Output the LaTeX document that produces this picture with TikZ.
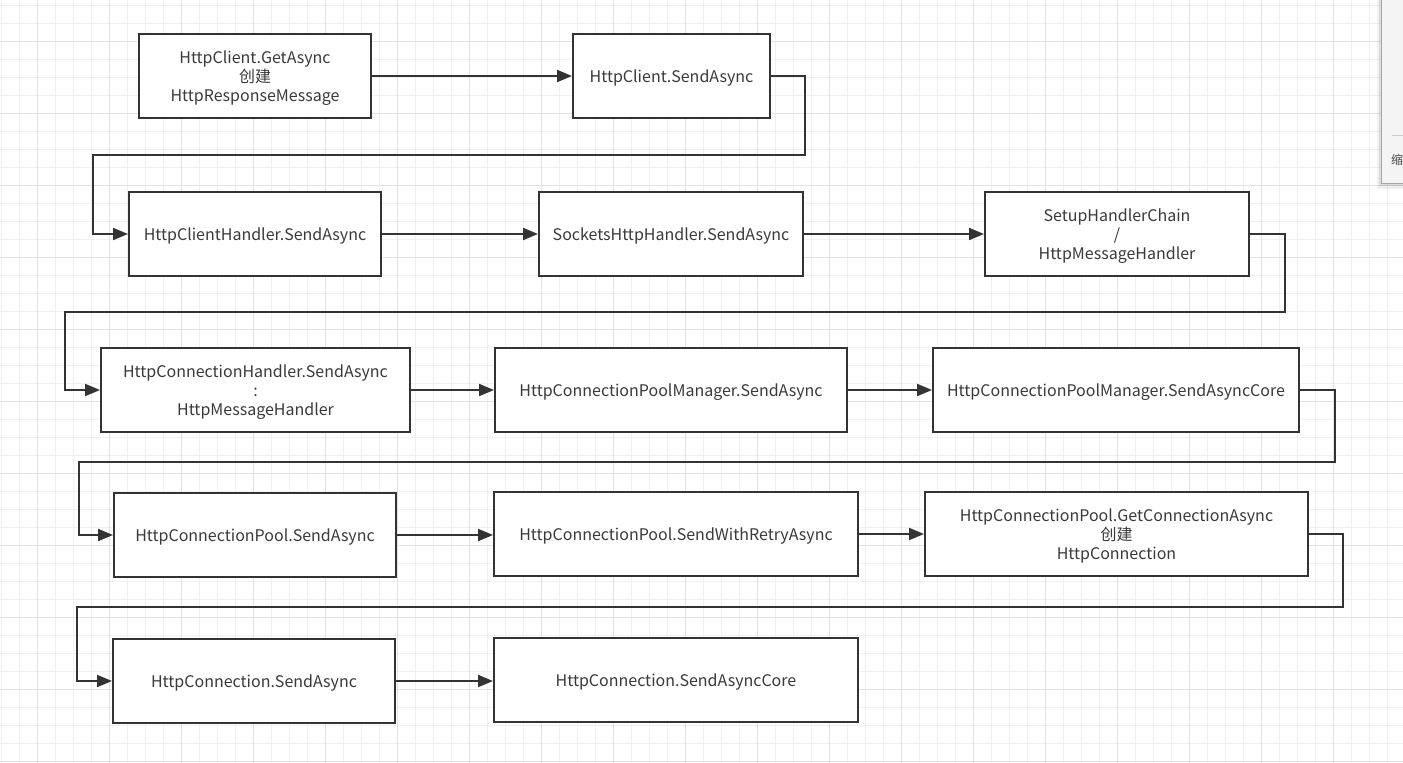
\documentclass[tikz,border=0pt]{standalone}
\usepackage{fontspec}
\setmainfont{Noto Sans CJK SC}
\usetikzlibrary{arrows.meta}
\definecolor{ink}{HTML}{333333}
\definecolor{txt}{HTML}{3A3A3A}
\definecolor{gridminor}{HTML}{F0F0F0}
\definecolor{gridmajor}{HTML}{E2E2E2}
\definecolor{panelfill}{HTML}{F4F4F4}
\tikzset{
  box/.style={draw=ink, line width=2pt, fill=white, minimum height=84pt, inner sep=0pt},
  lbl/.style={align=center, text=txt, font=\fontsize{16}{19}\selectfont, inner sep=0pt, yshift=-2pt},
  conn/.style={draw=ink, line width=2pt, -{Triangle[length=15pt,width=12pt]}},
  gminor/.style={draw=gridminor, line width=0.8pt},
  gmajor/.style={draw=gridmajor, line width=1pt}
}
\begin{document}
\begin{tikzpicture}[x=1pt,y=-1pt]
\useasboundingbox (0,0) rectangle (1403,763);
\fill[white] (0,0) rectangle (1403,763);
% grid
\foreach \x in {1,19,...,1403} \draw[gminor] (\x,0) -- (\x,763);
\foreach \y in {5,23,...,763} \draw[gminor] (0,\y) -- (1403,\y);
\foreach \x in {37,109,...,1403} \draw[gmajor] (\x,0) -- (\x,763);
\foreach \y in {41,113,...,763} \draw[gmajor] (0,\y) -- (1403,\y);

% boxes
\node[box, minimum width=232pt] (A) at (255,76) {};
\node[box, minimum width=197pt] (B) at (671.5,76) {};
\node[box, minimum width=252pt] (C) at (255,234) {};
\node[box, minimum width=264pt] (D) at (671,234) {};
\node[box, minimum width=264pt] (E) at (1117,234) {};
\node[box, minimum width=309pt] (F) at (255.5,390) {};
\node[box, minimum width=352pt] (G) at (671,390) {};
\node[box, minimum width=366pt] (H) at (1116,390) {};
\node[box, minimum width=282pt] (I) at (255,535) {};
\node[box, minimum width=364pt] (J) at (676,534) {};
\node[box, minimum width=383pt] (K) at (1116.5,534) {};
\node[box, minimum width=282pt] (L) at (254,681) {};
\node[box, minimum width=364pt] (M) at (676,680) {};

% labels
\node[lbl] (At) at (A) {HttpClient.GetAsync\\创建\\HttpResponseMessage};
\node[lbl] (Bt) at (B) {HttpClient.SendAsync};
\node[lbl] (Ct) at (C) {HttpClientHandler.SendAsync};
\node[lbl] (Dt) at (D) {SocketsHttpHandler.SendAsync};
\node[lbl] (Et) at (E) {SetupHandlerChain\\/\\HttpMessageHandler};
\node[lbl] (Ft) at (F) {HttpConnectionHandler.SendAsync\\:\\HttpMessageHandler};
\node[lbl] (Gt) at (G) {HttpConnectionPoolManager.SendAsync};
\node[lbl] (Ht) at (H) {HttpConnectionPoolManager.SendAsyncCore};
\node[lbl] (It) at (I) {HttpConnectionPool.SendAsync};
\node[lbl] (Jt) at (J) {HttpConnectionPool.SendWithRetryAsync};
\node[lbl] (Kt) at (K) {HttpConnectionPool.GetConnectionAsync\\创建\\HttpConnection};
\node[lbl] (Lt) at (L) {HttpConnection.SendAsync};
\node[lbl] (Mt) at (M) {HttpConnection.SendAsyncCore};

% connectors
\draw[conn] (A) -- (B);
\draw[conn] (B.east) -| (805,155) -| (93,234) -- (C.west);
\draw[conn] (C) -- (D);
\draw[conn] (D) -- (E);
\draw[conn] (E.east) -| (1285,312) -| (65,390) -- (F.west);
\draw[conn] (F) -- (G);
\draw[conn] (G) -- (H);
\draw[conn] (H.east) -| (1335,462) -| (79,535) -- (I.west);
\draw[conn] (I.east) -- (J.west |- I.east);
\draw[conn] (J) -- (K);
\draw[conn] (K.east) -| (1343,607) -| (77,681) -- (L.west);
\draw[conn] (L.east) -- (M.west |- L.east);

% side panel
\begin{scope}
\clip (0,0) rectangle (1403,763);
\fill[black, opacity=0.06] (1377,0) rectangle (1410,189);
\fill[black, opacity=0.08] (1379,0) rectangle (1410,186);
\filldraw[fill=panelfill, draw=gray!70, line width=0.8pt] (1381.5,-2) rectangle (1410,183);
\draw[gray!40, line width=0.8pt] (1392,135) -- (1410,135);
\node[anchor=west, inner sep=0pt, text=ink!90, font=\fontsize{12}{12}\selectfont] (panelt) at (1391,160) {缩};
\end{scope}
\end{tikzpicture}
\end{document}
